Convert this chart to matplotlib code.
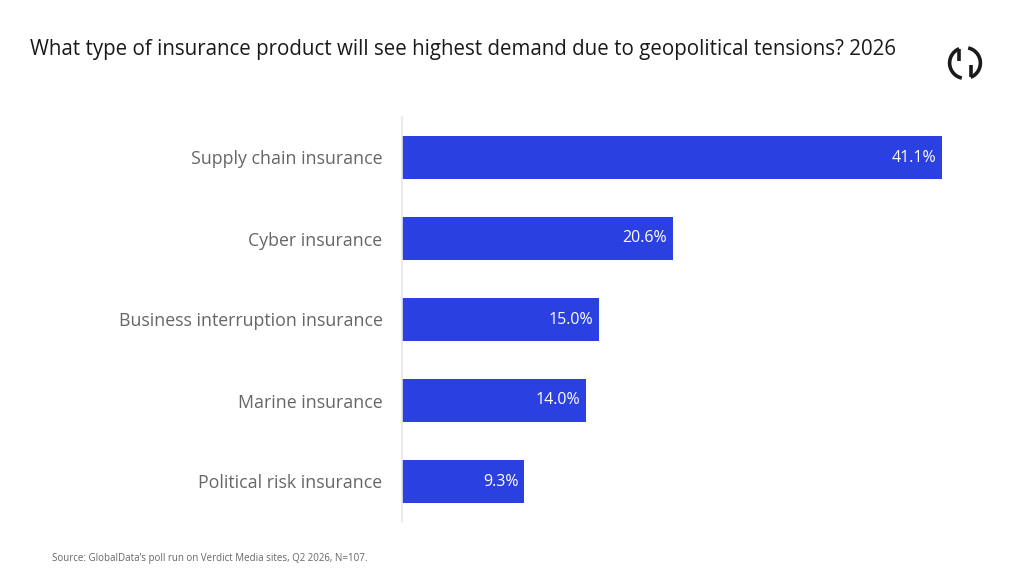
import matplotlib
matplotlib.use("Agg")
from matplotlib import pyplot as plt
from matplotlib.patches import Arc
from matplotlib.lines import Line2D

categories = ["Supply chain insurance", "Cyber insurance",
              "Business interruption insurance", "Marine insurance",
              "Political risk insurance"]
values = [41.1, 20.6, 15.0, 14.0, 9.3]
value_labels = ["41.1%", "20.6%", "15.0%", "14.0%", "9.3%"]

title = "What type of insurance product will see highest demand due to geopolitical tensions? 2026"
source = "Source: GlobalData\u2019s poll run on Verdict Media sites, Q2 2026, N=107."

plt.rcParams['font.family'] = ['Open Sans', 'DejaVu Sans']

fig = plt.figure(figsize=(10.24, 5.76), dpi=100)
ax = fig.add_axes([402 / 1024, 54 / 576, 540 / 1024, 405 / 576])

ypos = list(range(len(categories)))
ax.barh(ypos, values, height=0.54, color="#2b40e0")
ax.set_xlim(0, 41.1)
ax.set_ylim(4.5, -0.5)

for y, v, lab in zip(ypos, values, value_labels):
    ax.text(v - 0.45, y, lab, color="white", fontsize=11.5, ha="right", va="center")

ax.set_yticks(ypos)
ax.set_yticklabels(categories, fontsize=12.8, color="#666666")
ax.tick_params(axis="y", length=0, pad=14)
ax.set_xticks([])
for s in ["top", "right", "bottom"]:
    ax.spines[s].set_visible(False)
ax.spines["left"].set_color("#e8e8e8")
ax.spines["left"].set_linewidth(1.2)

fig.text(30 / 1024, 1 - 50 / 576, title, fontsize=14.8, color="#1a1a1a",
         ha="left", va="center")
fig.text(52 / 1024, 1 - 558 / 576, source, fontsize=7, color="#666666",
         ha="left", va="center")

# logo: two hooked halves of a circle with a diagonal gap
lax = fig.add_axes([945 / 1024, 1 - 83 / 576, 40 / 1024, 40 / 576])
lax.set_xlim(-1.3, 1.3)
lax.set_ylim(-1.3, 1.3)
lax.set_aspect("equal")
lax.axis("off")
ink = "#1a1a1a"
lax.add_patch(Arc((0, 0), 2, 2, theta1=112, theta2=258, color=ink, lw=2.6))
lax.add_patch(Arc((0, 0), 2, 2, theta1=-68, theta2=78, color=ink, lw=2.6))
lax.add_line(Line2D([-0.37, -0.37], [0.93, 0.12], color=ink, lw=2.6,
                    solid_capstyle="butt"))
lax.add_line(Line2D([0.37, 0.37], [-0.93, -0.12], color=ink, lw=2.6,
                    solid_capstyle="butt"))

fig.savefig("out.png", dpi=100)
